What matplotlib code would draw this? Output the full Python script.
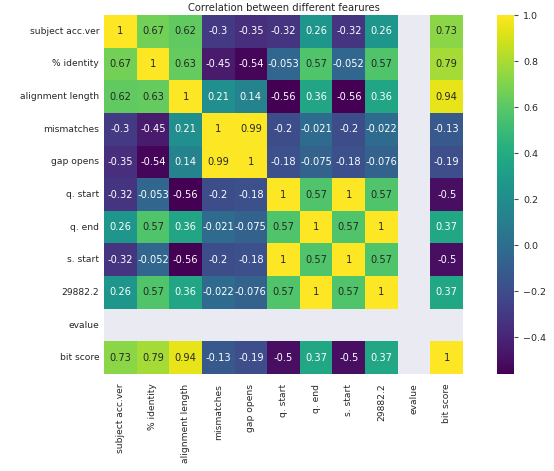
import matplotlib
matplotlib.use('Agg')
import matplotlib.pyplot as plt
import numpy as np
import pandas as pd
import seaborn as sns

labels = ['subject acc.ver', '% identity', 'alignment length', 'mismatches',
          'gap opens', 'q. start', 'q. end', 's. start', '29882.2', 'evalue',
          'bit score']
nan = np.nan
corr_rows = [
    [1, 0.67, 0.62, -0.3, -0.35, -0.32, 0.26, -0.32, 0.26, nan, 0.73],
    [0.67, 1, 0.63, -0.45, -0.54, -0.053, 0.57, -0.052, 0.57, nan, 0.79],
    [0.62, 0.63, 1, 0.21, 0.14, -0.56, 0.36, -0.56, 0.36, nan, 0.94],
    [-0.3, -0.45, 0.21, 1, 0.99, -0.2, -0.021, -0.2, -0.022, nan, -0.13],
    [-0.35, -0.54, 0.14, 0.99, 1, -0.18, -0.075, -0.18, -0.076, nan, -0.19],
    [-0.32, -0.053, -0.56, -0.2, -0.18, 1, 0.57, 1, 0.57, nan, -0.5],
    [0.26, 0.57, 0.36, -0.021, -0.075, 0.57, 1, 0.57, 1, nan, 0.37],
    [-0.32, -0.052, -0.56, -0.2, -0.18, 1, 0.57, 1, 0.57, nan, -0.5],
    [0.26, 0.57, 0.36, -0.022, -0.076, 0.57, 1, 0.57, 1, nan, 0.37],
    [nan] * 11,
    [0.73, 0.79, 0.94, -0.13, -0.19, -0.5, 0.37, -0.5, 0.37, nan, 1],
]

corr = pd.DataFrame(corr_rows, index=labels, columns=labels)

sns.set_style('darkgrid')
plt.rcParams['font.family'] = ['DejaVu Sans']

fig = plt.figure(figsize=(5.54, 4.71), dpi=100)
# heatmap area and colorbar placed as in the reference
heat_box = [104 / 554, 1 - 374 / 471, 359 / 554, 359 / 471]
ax = fig.add_axes(heat_box)
cax = fig.add_axes([497 / 554, 1 - 374 / 471, 17 / 554, 359 / 471])

sns.heatmap(corr, annot=True, cmap='viridis', ax=ax, cbar_ax=cax,
            annot_kws={'fontsize': 7.1})
ax.grid(False)
ax.set_aspect('auto')
ax.set_position(heat_box)
ax.set_title('Correlation between different fearures', fontsize=7.2, pad=3)
ax.tick_params(axis='both', labelsize=6.6, length=0)
ax.tick_params(axis='x', pad=7)
ax.set_xticklabels(labels, rotation=90)
ax.set_yticklabels(labels, rotation=0)
cax.tick_params(labelsize=6.8, length=3, width=0.8, color='0.3')
cax.grid(False)

fig.savefig('out.png', dpi=100)
